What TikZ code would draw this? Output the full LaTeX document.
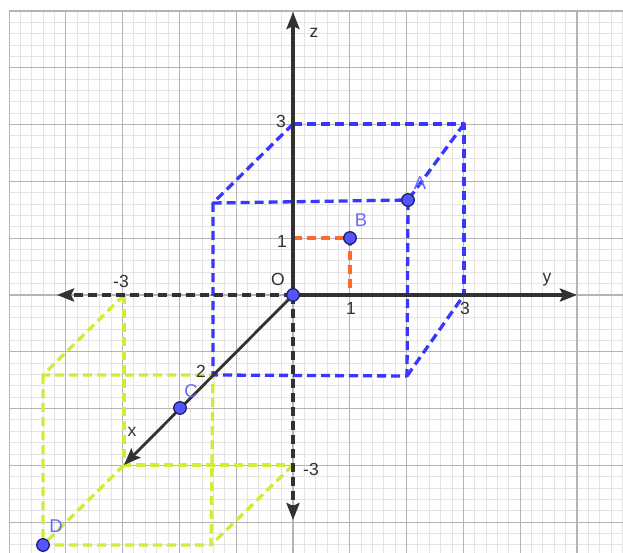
\documentclass[tikz,border=0pt]{standalone}
\usepackage{fontspec}
\setmainfont{Liberation Sans}
\usetikzlibrary{arrows.meta}
\definecolor{gminor}{RGB}{228,228,228}
\definecolor{gmajor}{RGB}{180,180,180}
\definecolor{axcol}{RGB}{50,50,50}
\definecolor{bluel}{RGB}{55,55,255}
\definecolor{greenl}{RGB}{205,238,55}
\definecolor{orangel}{RGB}{255,105,45}
\definecolor{dotfill}{RGB}{85,85,255}
\definecolor{dotdraw}{RGB}{30,30,110}
\definecolor{ptlab}{RGB}{105,105,255}
\begin{document}
\begin{tikzpicture}[x=1pt,y=-1pt,
  dsh/.style={line width=3.3pt,dash pattern=on 9pt off 5pt},
  bluedsh/.style={dsh,bluel,line join=round},
  greendsh/.style={dsh,greenl,line join=round},
  orangedsh/.style={dsh,orangel},
  axis/.style={line width=3.4pt,axcol,-{Stealth[length=17pt,width=13pt,inset=3pt]}},
  axisdsh/.style={axis,dash pattern=on 9pt off 5pt},
  xaxis/.style={line width=2.8pt,axcol,-{Stealth[length=17pt,width=13pt,inset=3pt]}},
  pt/.style={circle,fill=dotfill,draw=dotdraw,line width=1.3pt,inner sep=0pt,minimum size=12.5pt},
  lab/.style={text=axcol,font=\fontsize{17.5}{20}\selectfont,inner sep=0pt},
  plab/.style={text=ptlab,font=\fontsize{18.5}{21}\selectfont,inner sep=0pt}]
\useasboundingbox (0,0) rectangle (623,553);
\fill[white] (0,0) rectangle (623,553);
% grid
\begin{scope}
\clip (9,11) rectangle (623,553);
\foreach \i in {-25,...,29} \draw[gminor,line width=1pt] ({293+\i*11.36},11) -- ({293+\i*11.36},553);
\foreach \i in {-25,...,22} \draw[gminor,line width=1pt] (9,{295+\i*11.36}) -- (623,{295+\i*11.36});
\foreach \k in {-5,...,5} \draw[gmajor,line width=1.2pt] ({293+\k*56.8},11) -- ({293+\k*56.8},553);
\foreach \k in {-5,...,4} \draw[gmajor,line width=1.2pt] (9,{295+\k*56.8}) -- (623,{295+\k*56.8});
\end{scope}
% named coordinates
\coordinate (O) at (293,295);
\coordinate (ztip) at (293,12);
\coordinate (ytip) at (577,295);
\coordinate (xtip) at (124,465);
\coordinate (yneg) at (57,295);
\coordinate (zneg) at (293,520);
\coordinate (b1) at (293,124);
\coordinate (b2) at (464,124);
\coordinate (b3) at (464,295);
\coordinate (b4) at (213,203);
\coordinate (b5) at (213,375);
\coordinate (b6) at (407,376);
\coordinate (Ac) at (408,200);
\coordinate (Bc) at (350,238);
\coordinate (o1) at (293,238);
\coordinate (o2) at (350,295);
\coordinate (g1) at (124,295);
\coordinate (g2) at (43,375);
\coordinate (g3) at (213,375);
\coordinate (g5) at (211,545);
\coordinate (g7) at (124,465);
\coordinate (g8) at (293,465);
\coordinate (Dc) at (43,545);
\coordinate (Cc) at (180,408);
% green box
\draw[greendsh] (g1) -- (g2) -- (g3);
\draw[greendsh] (g2) -- (Dc) -- (g5) -- (g3);
\draw[greendsh] (g1) -- (g7) -- (g8);
\draw[greendsh] (g7) -- (Dc);
\draw[greendsh] (g8) -- (g5);
% blue box
\draw[bluedsh] (b1) -- (b2) -- (b3);
\draw[bluedsh] (b1) -- (b4) -- (Ac);
\draw[bluedsh] (b4) -- (b5) -- (b6) -- (Ac);
\draw[bluedsh] (b2) -- (Ac);
\draw[bluedsh] (b6) -- (b3);
% orange
\draw[orangedsh] (o1) -- (Bc) -- (o2);
% axes
\draw[axisdsh] (O) -- (yneg);
\draw[axisdsh] (O) -- (zneg);
\draw[axis] (O) -- (ztip);
\draw[axis] (O) -- (ytip);
\draw[xaxis] (O) -- (xtip);
% points
\node[pt] (O') at (O) {};
\node[pt] (A) at (Ac) {};
\node[pt] (B) at (Bc) {};
\node[pt] (C) at (Cc) {};
\node[pt] (D) at (Dc) {};
% labels
\node[lab] (lz) at (314,33) {z};
\node[lab] (lz3) at (281,121) {3};
\node[lab] (lz1) at (282,241) {1};
\node[lab] (lO) at (278,279) {O};
\node[lab] (ly) at (547,280) {y};
\node[lab] (ly1) at (351,308) {1};
\node[lab] (ly3) at (465,308) {3};
\node[lab] (lym) at (121,281) {-3};
\node[lab] (lx2) at (201,371) {2};
\node[lab] (lx) at (132,432) {x};
\node[lab] (lzm) at (311,469) {-3};
\node[plab] (lA) at (420,183) {A};
\node[plab] (lB) at (361,220) {B};
\node[plab] (lC) at (191,391) {C};
\node[plab] (lD) at (56,526) {D};
\end{tikzpicture}
\end{document}
